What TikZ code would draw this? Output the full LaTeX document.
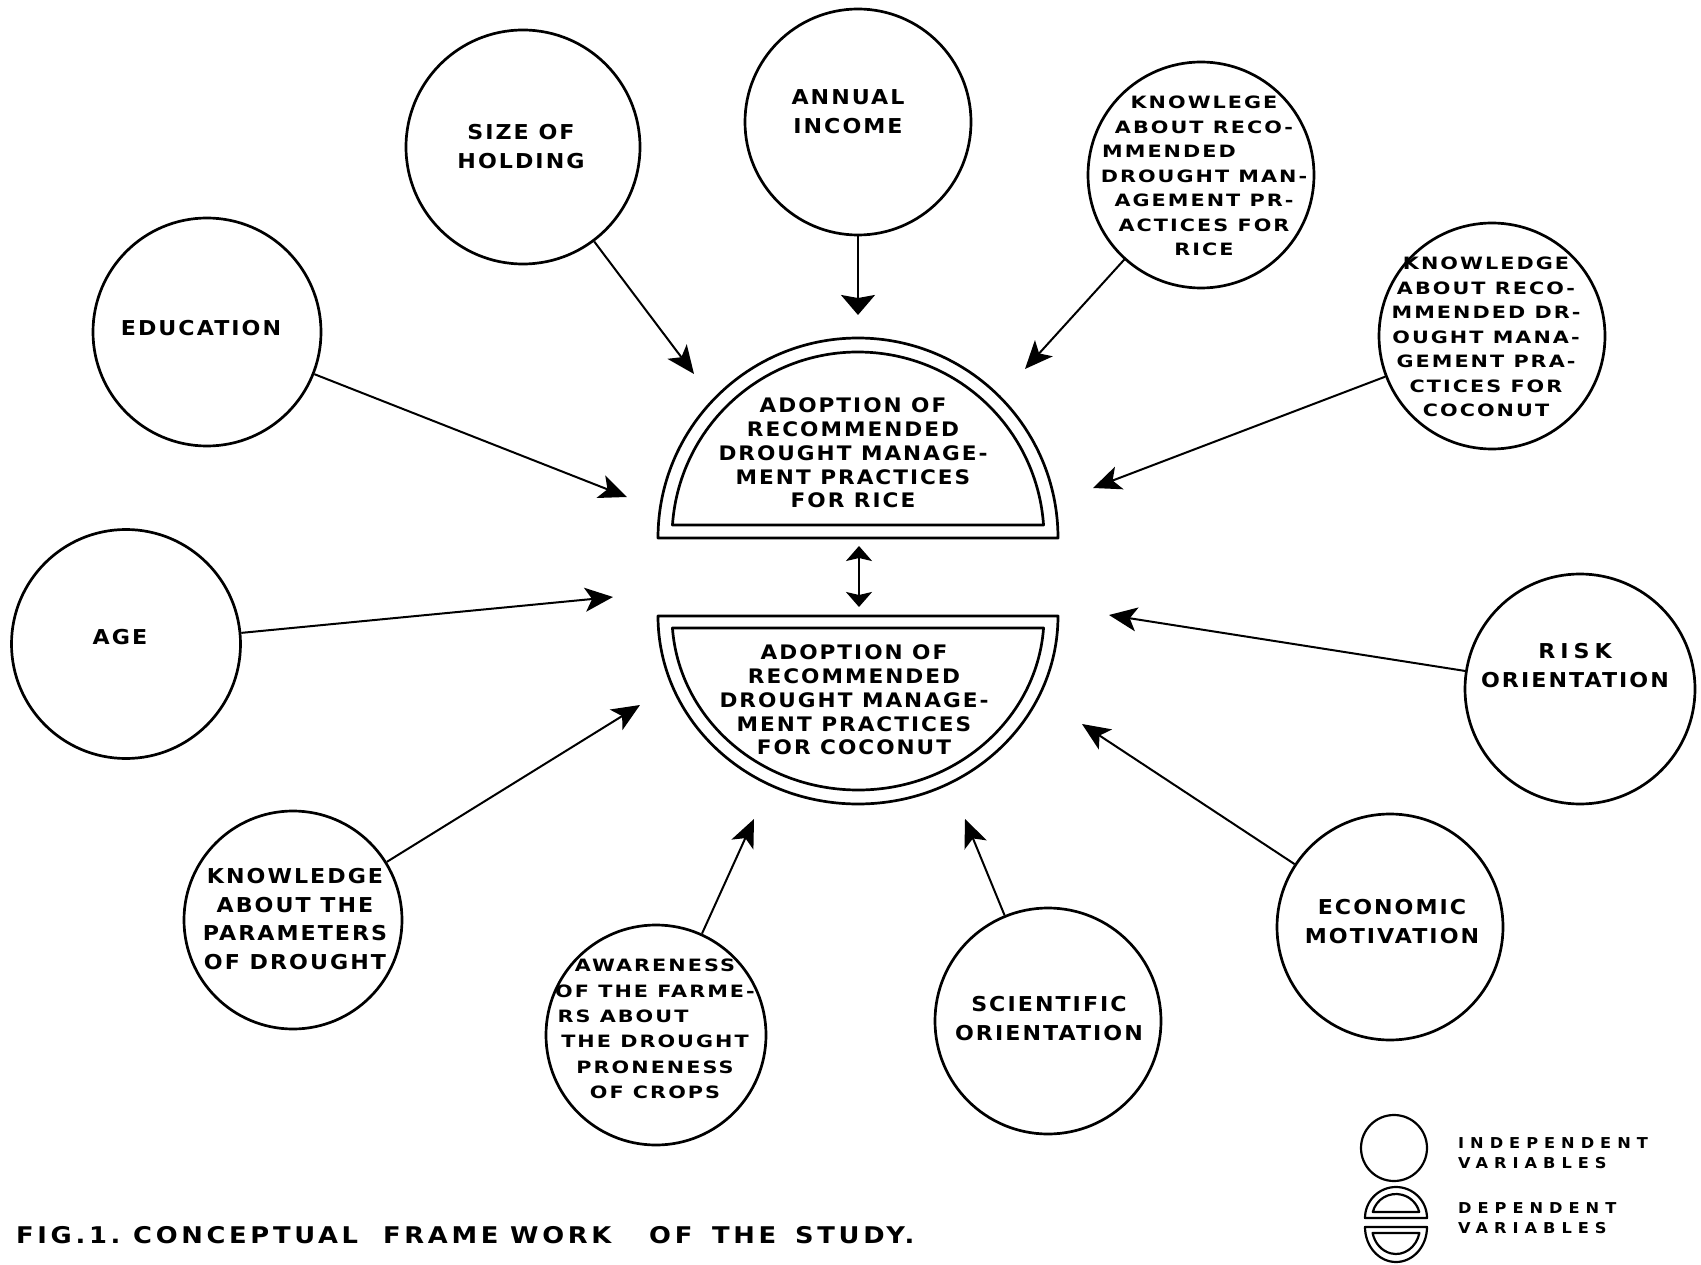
\documentclass[tikz,border=0pt]{standalone}
\usepackage{fontspec}
\usetikzlibrary{arrows.meta}
\newfontfamily\mainf[FakeStretch=1.08,LetterSpace=10]{DejaVu Sans}
\newfontfamily\densef[FakeStretch=1.22,LetterSpace=12]{DejaVu Sans}
\newfontfamily\legf[FakeStretch=1.08,LetterSpace=40]{DejaVu Sans}
\newfontfamily\capf[FakeStretch=1.12,LetterSpace=16]{DejaVu Sans}
\begin{document}
\begin{tikzpicture}[x=1pt,y=-1pt,
  indep/.style={circle,draw,line width=2.7pt,inner sep=0pt,minimum size=#1},
  bigt/.style={align=center,inner sep=0pt,font=\mainf\bfseries\fontsize{20.5}{29}\selectfont},
  denset/.style={align=center,inner sep=0pt,font=\densef\bfseries\fontsize{17}{24.5}\selectfont},
  dept/.style={align=center,inner sep=0pt,font=\mainf\bfseries\fontsize{20}{23.8}\selectfont},
  legt/.style={align=left,inner sep=0pt,anchor=west,font=\legf\bfseries\fontsize{15}{20}\selectfont},
  capt/.style={inner sep=0pt,anchor=west,font=\capf\bfseries\fontsize{23}{28}\selectfont},
  depline/.style={draw,line width=2.7pt,line join=round},
  legline/.style={draw,line width=2.2pt,line join=round},
  arr/.style={line width=2pt,-{Stealth[length=28pt,width=24pt,inset=7pt]}},
  arrinc/.style={line width=2pt,-{Stealth[length=20pt,width=34pt,inset=3pt]}},
  darr/.style={line width=2pt,{Stealth[length=15pt,width=26pt,inset=3pt]}-{Stealth[length=15pt,width=26pt,inset=3pt]}}
]
\useasboundingbox (0,0) rectangle (1701,1265);

% ---- dependent variables (central shapes)
\coordinate (ricec) at (858,538);
\coordinate (cococ) at (858,616);
\path[depline] (ricec) ++(180:200) arc[start angle=180,end angle=360,radius=200] -- cycle;
\path[depline] (ricec) ++(184:186) arc[start angle=184,end angle=356,radius=186] -- cycle;
\path[depline] (cococ) ++(0:200 and 188) arc[start angle=0,end angle=180,x radius=200,y radius=188] -- cycle;
\path[depline] (cococ) ++(3.95:186 and 174) arc[start angle=3.95,end angle=176.05,x radius=186,y radius=174] -- cycle;
\node[dept] (rice) at (853,453) {ADOPTION OF\\RECOMMENDED\\DROUGHT MANAGE-\\MENT PRACTICES\\FOR RICE};
\node[dept] (coco) at (854,700) {ADOPTION OF\\RECOMMENDED\\DROUGHT MANAGE-\\MENT PRACTICES\\FOR COCONUT};
\coordinate (ricebase) at (859,546);
\coordinate (cocotop) at (859,607);
\draw[darr] (ricebase) -- (cocotop);

% ---- independent variables
\node[indep=234pt] (soh) at (523,147) {};
\node[bigt] (soh-t) at (521,147) {SIZE OF\\HOLDING};
\node[indep=226pt] (inc) at (858,122) {};
\node[bigt] (inc-t) at (848,112) {ANNUAL\\INCOME};
\node[indep=226pt] (krice) at (1201,175) {};
\node[denset] (krice-t) at (1204,176) {KNOWLEGE\\ABOUT RECO-\\MMENDED\makebox[70pt]{}\\DROUGHT MAN-\\AGEMENT PR-\\ACTICES FOR\\RICE};
\node[indep=226pt] (kcoco) at (1492,336) {};
\node[denset] (kcoco-t) at (1486,337) {KNOWLEDGE\\ABOUT RECO-\\MMENDED DR-\\OUGHT MANA-\\GEMENT PRA-\\CTICES FOR\\COCONUT};
\node[indep=228pt] (edu) at (207,332) {};
\node[bigt] (edu-t) at (201,328) {EDUCATION};
\node[indep=229pt] (age) at (126,644) {};
\node[bigt] (age-t) at (120,637) {AGE};
\node[indep=230pt] (risk) at (1580,689) {};
\node[bigt] (risk-t) at (1575,666) {R\hspace{5pt}I\hspace{5pt}S\hspace{5pt}K\\ORIENTATION};
\node[indep=226pt] (econ) at (1390,927) {};
\node[bigt] (econ-t) at (1392,922) {ECONOMIC\\MOTIVATION};
\node[indep=218pt] (par) at (293,920) {};
\node[bigt,font=\mainf\bfseries\fontsize{20.5}{28.5}\selectfont] (par-t) at (295,919) {KNOWLEDGE\\ABOUT THE\\PARAMETERS\\OF DROUGHT};
\node[indep=220pt] (aware) at (656,1035) {};
\node[denset,font=\densef\bfseries\fontsize{17}{25.4}\selectfont] (aware-t) at (655,1029) {AWARENESS\\OF THE FARME-\\RS ABOUT\makebox[64pt]{}\\THE DROUGHT\\PRONENESS\\OF CROPS};
\node[indep=226pt] (sci) at (1048,1021) {};
\node[bigt] (sci-t) at (1049,1019) {SCIENTIFIC\\ORIENTATION};

% ---- arrow tips
\coordinate (t-soh) at (694,374);
\coordinate (t-inc) at (858,315);
\coordinate (t-krice) at (1025,369);
\coordinate (t-kcoco) at (1093,488);
\coordinate (t-edu) at (627,497);
\coordinate (t-age) at (613,597);
\coordinate (t-risk) at (1109,615);
\coordinate (t-econ) at (1082,724);
\coordinate (t-par) at (640,705);
\coordinate (t-aware) at (754,819);
\coordinate (t-sci) at (965,819);
\draw[arr] (soh) -- (t-soh);
\draw[arrinc] (inc) -- (t-inc);
\draw[arr] (krice) -- (t-krice);
\draw[arr] (kcoco) -- (t-kcoco);
\draw[arr] (edu) -- (t-edu);
\draw[arr] (age) -- (t-age);
\draw[arr] (risk) -- (t-risk);
\draw[arr] (econ) -- (t-econ);
\draw[arr] (par) -- (t-par);
\draw[arr] (aware) -- (t-aware);
\draw[arr] (sci) -- (t-sci);

% ---- legend
\node[circle,draw,line width=2.2pt,inner sep=0pt,minimum size=66pt] (legc) at (1394,1148) {};
\node[legt] (leg-ind) at (1458,1153) {INDEPENDENT\\VARIABLES};
\coordinate (legu) at (1396,1218);
\coordinate (legl) at (1396,1227);
\path[legline] (legu) ++(180:31) arc[start angle=180,end angle=360,radius=31] -- cycle;
\path[legline] (legu) ++(194.48:24) arc[start angle=194.48,end angle=345.52,radius=24] -- cycle;
\path[legline] (legl) ++(0:31 and 35) arc[start angle=0,end angle=180,x radius=31,y radius=35] -- cycle;
\path[legline] (legl) ++(12.84:24 and 27) arc[start angle=12.84,end angle=167.16,x radius=24,y radius=27] -- cycle;
\node[legt] (leg-dep) at (1458,1218) {DEPENDENT\\VARIABLES};

% ---- caption
\node[capt] (cap) at (16,1235) {\makebox[117pt][l]{FIG.1.}\makebox[250pt][l]{CONCEPTUAL}\makebox[127pt][l]{FRAME}\makebox[139pt][l]{WORK}\makebox[63pt][l]{OF}\makebox[83pt][l]{THE}STUDY.};
\end{tikzpicture}
\end{document}
